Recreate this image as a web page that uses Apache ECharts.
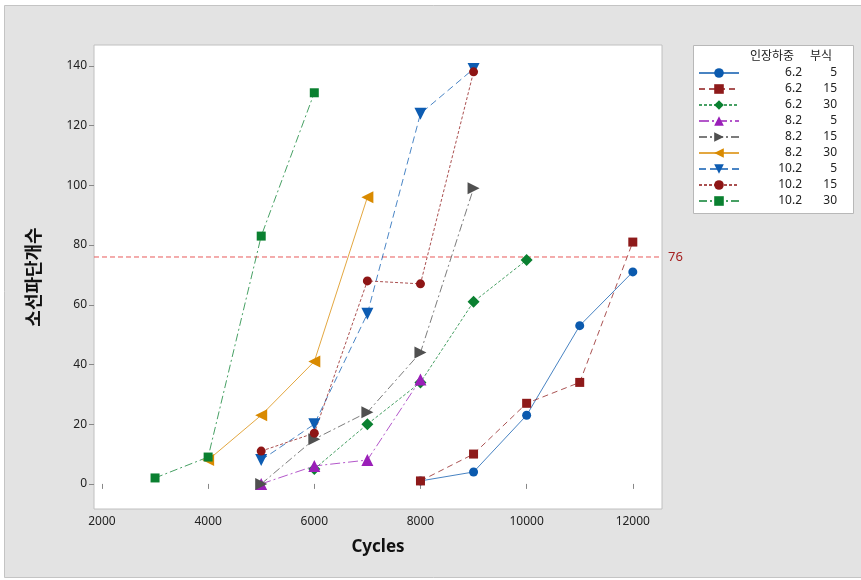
<!DOCTYPE html>
<html>
<head>
<meta charset="utf-8">
<script src="https://cdn.jsdelivr.net/npm/echarts@6/dist/echarts.min.js"></script>
<style>
  html, body { margin: 0; padding: 0; background: #fff; }
  #main { width: 861px; height: 580px; }
</style>
</head>
<body>
<div id="main"></div>
<script>
// values: [cycles, broken wires]
const load = ['6.2', '6.2', '6.2', '8.2', '8.2', '8.2', '10.2', '10.2', '10.2'];
const corrosion = ['5', '15', '30', '5', '15', '30', '5', '15', '30'];

const s62_5 = [[8000, 1], [9000, 4], [10000, 23], [11000, 53], [12000, 71]];
const s62_15 = [[8000, 1], [9000, 10], [10000, 27], [11000, 34], [12000, 81]];
const s62_30 = [[6000, 5], [7000, 20], [8000, 34], [9000, 61], [10000, 75]];
const s82_5 = [[5000, 0], [6000, 6], [7000, 8], [8000, 35]];
const s82_15 = [[5000, 0], [6000, 15], [7000, 24], [8000, 44], [9000, 99]];
const s82_30 = [[4000, 8], [5000, 23], [6000, 41], [7000, 96]];
const s102_5 = [[5000, 8], [6000, 20], [7000, 57], [8000, 124], [9000, 139]];
const s102_15 = [[5000, 11], [6000, 17], [7000, 68], [8000, 67], [9000, 138]];
const s102_30 = [[3000, 2], [4000, 9], [5000, 83], [6000, 131]];

const refLine = 76;

// axis ranges
const xMin = 1850, xMax = 12550;
const yMin = -8.4, yMax = 147;

const allData = [s62_5, s62_15, s62_30, s82_5, s82_15, s82_30, s102_5, s102_15, s102_30];

// look of each series (colour, marker, dash)
const styles = [
    { color: '#0b5aae', symbol: 'circle', rot: 0, size: 9, dash: 'solid' },
    { color: '#8e1a1a', symbol: 'rect', rot: 0, size: 9, dash: [6, 4] },
    { color: '#0a8030', symbol: 'diamond', rot: 0, size: 12, dash: [3, 2] },
    { color: '#9a1fb8', symbol: 'triangle', rot: 0, size: 12, dash: [10, 3, 2, 3] },
    { color: '#505050', symbol: 'triangle', rot: -90, size: 12, dash: [8, 3, 2, 3] },
    { color: '#d98a00', symbol: 'triangle', rot: 90, size: 12, dash: 'solid' },
    { color: '#0d5cb2', symbol: 'triangle', rot: 180, size: 12, dash: [7, 4] },
    { color: '#8e1515', symbol: 'circle', rot: 0, size: 9, dash: [3, 2] },
    { color: '#0a8030', symbol: 'rect', rot: 0, size: 9, dash: [8, 3, 2, 3] }
];

const font = '"Noto Sans", "Noto Sans CJK KR", sans-serif';
const refColor = '#e85a5a';

const myChart = echarts.init(document.getElementById('main'), null, { renderer: 'canvas' });

const series = allData.map((d, i) => {
    const st = styles[i];
    return {
        name: load[i] + ' ' + corrosion[i],
        type: 'line',
        data: d,
        symbol: st.symbol,
        symbolRotate: st.rot,
        symbolSize: st.size,
        color: st.color,
        lineStyle: { width: 1, type: st.dash, opacity: 0.75 },
        itemStyle: { color: st.color, opacity: 1 },
        emphasis: { disabled: true },
        z: 3
    };
});

// reference line at 76, across the whole x range
series.push({
    name: 'ref',
    type: 'line',
    data: [[xMin, refLine], [xMax, refLine]],
    symbol: 'none',
    silent: true,
    z: 2,
    lineStyle: { color: refColor, type: [5, 3], width: 1 },
    endLabel: {
        show: true,
        color: '#a52020',
        fontSize: 13,
        fontFamily: font,
        distance: 6,
        formatter: String(refLine)
    }
});

let option = {
    backgroundColor: '#ffffff',
    animation: false,
    graphic: [
        {
            type: 'rect', z: -10,
            shape: { x: 4.5, y: 5.5, width: 880, height: 572 },
            style: { fill: '#e3e3e3', stroke: '#c4c4c4', lineWidth: 1 }
        },
        {
            type: 'rect', z: -5,
            shape: { x: 693.5, y: 45.5, width: 160, height: 168 },
            style: { fill: '#ffffff', stroke: '#b8b8b8', lineWidth: 1 }
        },
        {
            type: 'text', left: 750, top: 49,
            style: { text: '인장하중', fill: '#222', font: '12px "Noto Sans CJK KR"' }
        },
        {
            type: 'text', left: 810, top: 49,
            style: { text: '부식', fill: '#222', font: '12px "Noto Sans CJK KR"' }
        }
    ],
    grid: {
        left: 94, top: 45, right: 199, bottom: 71,
        show: true, backgroundColor: '#ffffff', borderColor: '#c0c0c0', borderWidth: 1
    },
    legend: {
        orient: 'vertical',
        left: 698, top: 66,
        itemWidth: 40, itemHeight: 12, itemGap: 2,
        padding: 0,
        selectedMode: false,
        data: series.slice(0, 9).map(s => s.name),
        formatter: function (name) {
            const p = name.split(' ');
            return '{a|' + p[0] + '}{b|' + p[1] + '}';
        },
        textStyle: {
            fontFamily: font, fontSize: 12, color: '#222', lineHeight: 14,
            rich: {
                a: { width: 58, align: 'right', fontSize: 12, fontFamily: font, color: '#222' },
                b: { width: 35, align: 'right', fontSize: 12, fontFamily: font, color: '#222' }
            }
        }
    },
    xAxis: {
        type: 'value',
        min: xMin, max: xMax,
        splitNumber: 5,
        name: 'Cycles',
        nameLocation: 'middle',
        nameGap: 30,
        nameTextStyle: { fontFamily: font, fontSize: 17, fontWeight: 'bold', color: '#111' },
        axisLine: { show: false },
        axisTick: { show: true, length: 5, lineStyle: { color: '#888' } },
        axisLabel: {
            fontFamily: font, fontSize: 12, color: '#222', margin: 7,
            showMinLabel: false, showMaxLabel: false,
            formatter: v => String(v)
        },
        splitLine: { show: false }
    },
    yAxis: {
        type: 'value',
        min: yMin, max: yMax,
        splitNumber: 7,
        name: '소선파단개수',
        nameLocation: 'middle',
        nameGap: 52,
        nameTextStyle: { fontFamily: '"Noto Sans CJK KR", sans-serif', fontSize: 18, fontWeight: 'bold', color: '#111' },
        axisLine: { show: false },
        axisTick: { show: true, length: 5, lineStyle: { color: '#888' } },
        axisLabel: { fontFamily: font, fontSize: 12, color: '#222', margin: 7, showMinLabel: false, showMaxLabel: false },
        splitLine: { show: false }
    },
    series: series
};

option && myChart.setOption(option);
</script>
</body>
</html>
